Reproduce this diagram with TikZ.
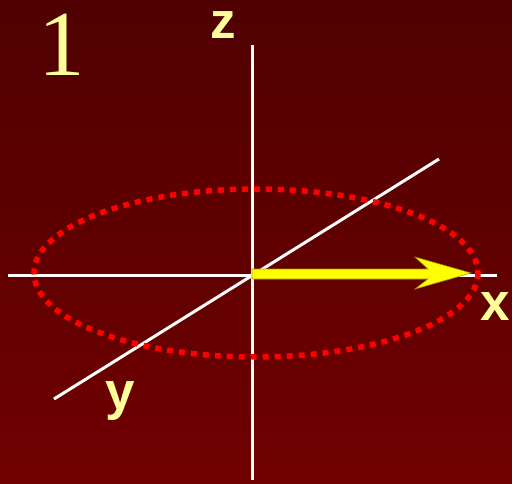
\documentclass[tikz,border=0pt]{standalone}
\usepackage{fontspec}
\setmainfont{Liberation Serif}
\newfontfamily\lblfont{Liberation Sans}
\definecolor{bgtop}{RGB}{80,0,0}
\definecolor{bgbot}{RGB}{112,0,0}
\definecolor{lbl}{RGB}{255,255,153}
\definecolor{arr}{RGB}{255,255,0}
\definecolor{arredge}{RGB}{170,150,0}
\tikzset{
  axis/.style={draw=white, line width=3pt},
  axislabel/.style={text=lbl, font=\lblfont\bfseries\fontsize{53}{53}\selectfont, anchor=base, inner sep=0pt, text height=0.53em, text depth=0.2em},
  orbit/.style={draw=red, line width=5.5pt, dash pattern=on 6pt off 6pt},
  vec/.style={fill=arr, draw=arredge, line width=0.6pt, line join=miter}
}
\begin{document}
\begin{tikzpicture}[x=1pt,y=-1pt]
\shade[top color=bgtop, bottom color=bgbot] (0,0) rectangle (512,483);
\useasboundingbox (0,0) rectangle (512,483);
\coordinate (o) at (252,275);
\coordinate (zt) at (252,45);
\coordinate (zb) at (252,480);
\coordinate (xl) at (8,275);
\coordinate (xr) at (497,275);
\coordinate (yf) at (54,399);
\coordinate (yb) at (439,159);
\coordinate (tip) at (471,273);
\draw[axis] (zt) -- (zb);
\draw[axis] (xl) -- (xr);
\draw[axis] (yf) -- (yb);
\draw[orbit] (256,273) ellipse [x radius=222, y radius=84];
\path[vec] (o) ++(0,-6) -- (428,269) -- (415,257) -- (tip) -- (415,289) -- (428,279) -- (252,279) -- cycle;
\node[text=lbl, font=\fontsize{93}{93}\selectfont, anchor=base, inner sep=0pt, text height=0.66em, text depth=0pt] (num) at (62,75) {1};
\node[axislabel, font=\lblfont\bfseries\fontsize{51}{51}\selectfont] (zlab) at (223,38) {z};
\node[axislabel] (xlab) at (495,320) {x};
\node[axislabel] (ylab) at (120,409) {y};
\end{tikzpicture}
\end{document}
